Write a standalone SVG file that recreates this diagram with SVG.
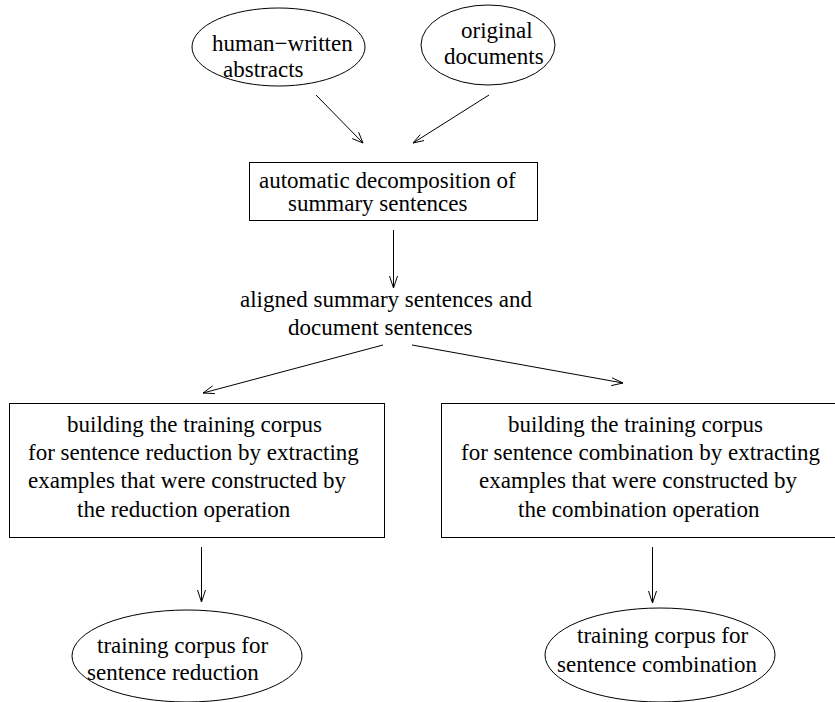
<svg xmlns="http://www.w3.org/2000/svg" width="835" height="702" viewBox="0 0 835 702">
<style>
.shape{fill:none;stroke:#000;stroke-width:1}
.edge{fill:none;stroke:#000;stroke-width:1}
text{font-family:"Liberation Serif","Times New Roman",serif;font-size:23px;fill:#000}
</style>
<rect width="835" height="702" fill="#fff"/>
<g id="human-abstracts">
<ellipse class="shape" cx="278.5" cy="47" rx="86.5" ry="39"/>
<text x="212" y="51">human−written</text>
<text x="223" y="77">abstracts</text>
</g>
<g id="original-documents">
<ellipse class="shape" cx="488" cy="45" rx="67" ry="40"/>
<text x="461" y="38">original</text>
<text x="444" y="64">documents</text>
</g>
<g id="decomposition">
<rect class="shape" x="249.5" y="162.5" width="288" height="58"/>
<text x="259" y="188">automatic decomposition of</text>
<text x="288" y="211">summary sentences</text>
</g>
<g id="aligned">
<text x="240" y="307">aligned summary sentences and</text>
<text x="288" y="335">document sentences</text>
</g>
<g id="build-reduction">
<rect class="shape" x="9.5" y="403.5" width="375" height="134"/>
<text x="67" y="432">building the training corpus</text>
<text x="28" y="460">for sentence reduction by extracting</text>
<text x="28" y="488">examples that were constructed by</text>
<text x="77" y="517">the reduction operation</text>
</g>
<g id="build-combination">
<rect class="shape" x="441.5" y="403.5" width="400" height="134"/>
<text x="508" y="432">building the training corpus</text>
<text x="461" y="460">for sentence combination by extracting</text>
<text x="479" y="488">examples that were constructed by</text>
<text x="518" y="517">the combination operation</text>
</g>
<g id="corpus-reduction">
<ellipse class="shape" cx="187" cy="656" rx="115" ry="46"/>
<text x="97" y="653">training corpus for</text>
<text x="87" y="680">sentence reduction</text>
</g>
<g id="corpus-combination">
<ellipse class="shape" cx="660" cy="655" rx="115" ry="47"/>
<text x="577" y="643">training corpus for</text>
<text x="557" y="672">sentence combination</text>
</g>
<g id="connectors">
<path class="edge" d="M316,95 L363,143 M352.2,138.6 L363,143 L358.6,132.2"/>
<path class="edge" d="M489,95 L413,143 M420.2,134.6 L413,143 L424.0,140.6"/>
<path class="edge" d="M393.5,230 L393.5,288 M389.5,276 L393.5,288 L397.5,276"/>
<path class="edge" d="M383,345 L203,393 M212.6,385.9 L203,393 L214.9,393.6"/>
<path class="edge" d="M412,345 L623,383 M612.1,377.8 L623,383 L611.2,385.6"/>
<path class="edge" d="M201.5,547 L201.5,602 M197.5,590 L201.5,602 L205.5,590"/>
<path class="edge" d="M652.5,547 L652.5,603 M648.5,591 L652.5,603 L656.5,591"/>
</g>
</svg>
